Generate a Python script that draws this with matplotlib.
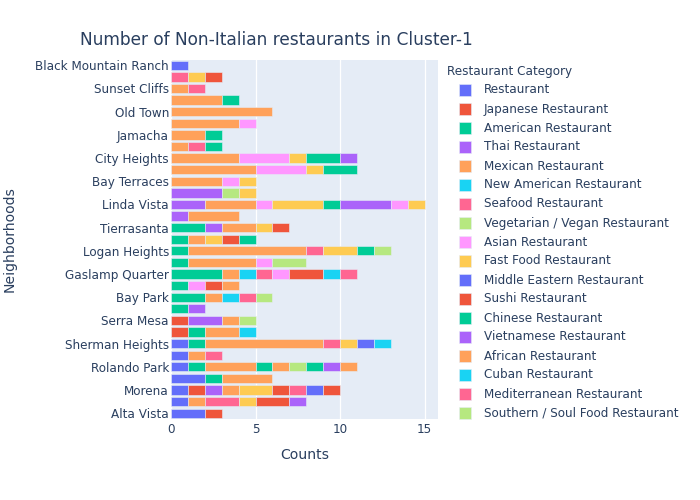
import matplotlib
matplotlib.use("Agg")
import matplotlib.pyplot as plt
from matplotlib.patches import Rectangle

plt.rcParams['font.family'] = ['DejaVu Sans']

# ---------------- data ----------------
categories = [
    "Restaurant", "Japanese Restaurant", "American Restaurant", "Thai Restaurant",
    "Mexican Restaurant", "New American Restaurant", "Seafood Restaurant",
    "Vegetarian / Vegan Restaurant", "Asian Restaurant", "Fast Food Restaurant",
    "Middle Eastern Restaurant", "Sushi Restaurant", "Chinese Restaurant",
    "Vietnamese Restaurant", "African Restaurant", "Cuban Restaurant",
    "Mediterranean Restaurant", "Southern / Soul Food Restaurant",
    # further categories (legend is cut off in the reference)
    "Korean Restaurant", "Indian Restaurant", "Greek Restaurant",
    "Ramen Restaurant", "Hawaiian Restaurant", "Latin American Restaurant",
    "Caribbean Restaurant",
]

# neighborhoods listed top to bottom (only every other one is labelled)
neighborhoods = [
    "Black Mountain Ranch", "Ocean Beach", "Sunset Cliffs", "Mission Hills",
    "Old Town", "Hillcrest", "Jamacha", "Encanto", "City Heights", "North Park",
    "Bay Terraces", "Paradise Hills", "Linda Vista", "Clairemont", "Tierrasanta",
    "Kearny Mesa", "Logan Heights", "Barrio Logan", "Gaslamp Quarter",
    "East Village", "Bay Park", "Bay Ho", "Serra Mesa", "Allied Gardens",
    "Sherman Heights", "Golden Hill", "Rolando Park", "College Area", "Morena",
    "Midway District", "Alta Vista",
]

# stacked segments per neighborhood: category index and count, in stack order
stack_cats = [
    [0],
    [6, 9, 11],
    [4, 6],
    [4, 12],
    [4],
    [4, 8],
    [4, 12],
    [4, 6, 12],
    [4, 8, 9, 12, 13],
    [4, 8, 9, 12],
    [4, 8, 9],
    [3, 7, 9],
    [3, 4, 8, 9, 12, 13, 18, 19],
    [3, 4],
    [2, 3, 4, 9, 11],
    [2, 4, 9, 11, 12],
    [2, 4, 6, 9, 12, 17],
    [2, 4, 8, 17],
    [2, 4, 5, 6, 8, 11, 15, 16],
    [2, 8, 11, 14],
    [2, 4, 5, 6, 7],
    [2, 3],
    [1, 3, 4, 7],
    [1, 2, 4, 5],
    [0, 2, 4, 6, 9, 10, 15],
    [0, 4, 6],
    [0, 2, 4, 12, 14, 17, 22, 23, 24],
    [0, 2, 4],
    [0, 1, 3, 4, 9, 11, 16, 20, 21],
    [0, 4, 6, 9, 11, 13],
    [0, 1],
]
stack_counts = [
    [1],
    [1, 1, 1],
    [1, 1],
    [3, 1],
    [6],
    [4, 1],
    [2, 1],
    [1, 1, 1],
    [4, 3, 1, 2, 1],
    [5, 3, 1, 2],
    [3, 1, 1],
    [3, 1, 1],
    [2, 3, 1, 3, 1, 3, 1, 1],
    [1, 3],
    [2, 1, 2, 1, 1],
    [1, 1, 1, 1, 1],
    [1, 7, 1, 2, 1, 1],
    [1, 4, 1, 2],
    [3, 1, 1, 1, 1, 2, 1, 1],
    [1, 1, 1, 1],
    [2, 1, 1, 1, 1],
    [1, 1],
    [1, 2, 1, 1],
    [1, 1, 2, 1],
    [1, 1, 7, 1, 1, 1, 1],
    [1, 1, 1],
    [1, 1, 3, 1, 1, 1, 1, 1, 1],
    [2, 1, 3],
    [1, 1, 1, 1, 2, 1, 1, 1, 1],
    [1, 1, 2, 1, 2, 1],
    [2, 1],
]

palette = ['#636EFA', '#EF553B', '#00CC96', '#AB63FA', '#FFA15A',
           '#19D3F3', '#FF6692', '#B6E880', '#FF97FF', '#FECB52']
cat_colors = [palette[i % len(palette)] for i in range(len(categories))]

TXT = '#2a3f5f'
BG = '#E5ECF6'

# ---------------- figure ----------------
W, H = 700, 500
fig = plt.figure(figsize=(W / 100, H / 100), dpi=100)
L, R, T, B = 171, 438, 59.5, 419
ax = fig.add_axes([L / W, 1 - B / H, (R - L) / W, (B - T) / H])
ax.set_facecolor(BG)

for i, (cats, cnts) in enumerate(zip(stack_cats, stack_counts)):
    left = 0
    for c, v in zip(cats, cnts):
        ax.barh(i, v, left=left, height=0.8, color=cat_colors[c],
                edgecolor=BG, linewidth=0.4, zorder=3)
        left += v

n = len(neighborhoods)
ax.set_ylim(n - 0.5, -0.5)
ax.set_xlim(0, 15.79)
ax.set_yticks(range(0, n, 2))
ax.set_yticklabels(neighborhoods[::2])
ax.set_xticks([0, 5, 10, 15])
ax.set_xticklabels(['0', '5', '10', '15'])
ax.tick_params(axis='both', length=0, labelsize=8.64, colors=TXT)
ax.tick_params(axis='y', pad=1.5)
ax.tick_params(axis='x', pad=3)
ax.grid(axis='x', color='white', linewidth=0.9, zorder=0)
ax.axvline(0, color='white', linewidth=1.5, zorder=1)
for s in ax.spines.values():
    s.set_visible(False)

# titles
fig.text(80 / W, 1 - 40 / H, "Number of Non-Italian restaurants in Cluster-1",
         fontsize=12.24, color=TXT, ha='left', va='center')
fig.text((L + R) / 2 / W, 1 - 455 / H, "Counts", fontsize=10.08, color=TXT,
         ha='center', va='center')
fig.text(10 / W, 1 - (T + B) / 2 / H, "Neighborhoods", fontsize=10.08, color=TXT,
         ha='center', va='center', rotation=90)

# legend (only the part that fits, as in the reference)
fig.text(447 / W, 1 - 72 / H, "Restaurant Category", fontsize=8.64, color=TXT,
         ha='left', va='center')
y0, dy = 90, 19
for k in range(18):
    yc = y0 + k * dy
    fig.add_artist(Rectangle((458.5 / W, 1 - (yc + 5.8) / H), 12 / W, 11.6 / H,
                             transform=fig.transFigure, facecolor=cat_colors[k],
                             edgecolor=BG, linewidth=0.4))
    fig.text(484 / W, 1 - yc / H, categories[k], fontsize=8.64, color=TXT,
             ha='left', va='center')

fig.savefig("out.png", dpi=100, facecolor='white')
